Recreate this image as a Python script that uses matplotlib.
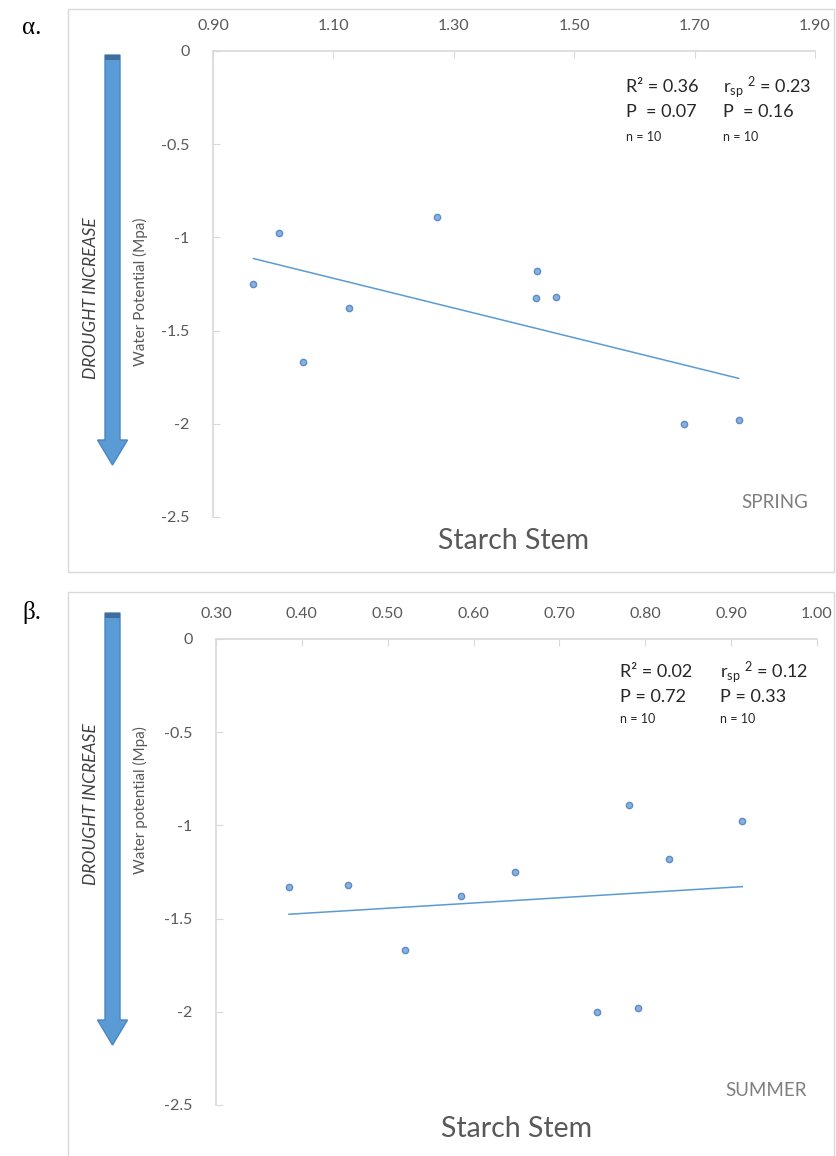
import numpy as np
import matplotlib
matplotlib.use("Agg")
import matplotlib.pyplot as plt
from matplotlib.patches import FancyArrow, Rectangle

plt.rcParams['font.family'] = ['Lato', 'DejaVu Sans']
plt.rcParams['mathtext.fontset'] = 'custom'
plt.rcParams['mathtext.rm'] = 'Lato'
plt.rcParams['mathtext.it'] = 'Lato:italic'

# ---------------- data ----------------
spring_starch = [0.967, 1.010, 1.049, 1.126, 1.272, 1.438, 1.437, 1.470, 1.682, 1.773]
spring_wp = [-1.25, -0.975, -1.666, -1.377, -0.893, -1.179, -1.327, -1.321, -2.00, -1.979]

summer_starch = [0.385, 0.454, 0.520, 0.585, 0.648, 0.744, 0.781, 0.791, 0.828, 0.913]
summer_wp = [-1.328, -1.322, -1.669, -1.377, -1.251, -2.003, -0.893, -1.982, -1.181, -0.975]

spring_xticks = [0.90, 1.10, 1.30, 1.50, 1.70, 1.90]
summer_xticks = [0.30, 0.40, 0.50, 0.60, 0.70, 0.80, 0.90, 1.00]
yticks = [0, -0.5, -1, -1.5, -2, -2.5]
ytick_labels = ['0', '-0.5', '-1', '-1.5', '-2', '-2.5']

spring_stats = ["R\u00b2 = 0.36", "P  = 0.07", "n = 10"]
spring_stats_sp = [r"r$_{\mathregular{sp}}$ $^{\mathregular{2}}$ = 0.23", "P  = 0.16", "n = 10"]
summer_stats = ["R\u00b2 = 0.02", "P = 0.72", "n = 10"]
summer_stats_sp = [r"r$_{\mathregular{sp}}$ $^{\mathregular{2}}$ = 0.12", "P = 0.33", "n = 10"]

W, H = 836, 1156
fig = plt.figure(figsize=(W / 100, H / 100), dpi=100)

BLUE = '#5B9BD5'
GRID = '#D9D9D9'
TXT = '#595959'


def px_rect(l, t, r, b):
    return [l / W, 1 - b / H, (r - l) / W, (b - t) / H]


def panel(box, frame, xs, ys, xticks, xlim, ylabel, ylabel_y, season, stats,
          stats_sp, tx1, tx2, ty, sx, letter, letter_y, arrow_top, arrow_bot,
          drought_y):
    fl, ft, fr, fb = frame
    fig.add_artist(Rectangle((fl / W, 1 - fb / H), (fr - fl) / W, (fb - ft) / H,
                             transform=fig.transFigure, fill=False,
                             edgecolor=GRID, linewidth=1.0))
    ax = fig.add_axes(px_rect(*box))
    ax.set_xlim(*xlim)
    ax.set_ylim(-2.5, 0)
    ax.xaxis.tick_top()
    ax.set_xticks(xticks)
    ax.set_xticklabels([f"{v:.2f}" for v in xticks])
    ax.set_yticks(yticks)
    ax.set_yticklabels(ytick_labels)
    ax.tick_params(axis='x', direction='in', length=5, color=GRID, pad=13,
                   labelsize=11.5, labelcolor=TXT)
    ax.tick_params(axis='y', direction='in', length=5, color=GRID, pad=17,
                   labelsize=11.5, labelcolor=TXT)
    for s in ['right', 'bottom']:
        ax.spines[s].set_visible(False)
    for s in ['top', 'left']:
        ax.spines[s].set_color(GRID)
        ax.spines[s].set_linewidth(1.2)

    ax.plot(xs, ys, 'o', ms=4.5, mfc='#8AB0DE', mec='#5B8BC9', mew=1.0,
            zorder=3, clip_on=False)
    k, b = np.polyfit(xs, ys, 1)
    xx = np.array([min(xs), max(xs)])
    ax.plot(xx, k * xx + b, color=BLUE, lw=1.1, zorder=2)

    bl, bt, br, bb = box
    ax.set_ylabel(ylabel, fontsize=11, color=TXT)
    ax.yaxis.set_label_coords((148 - bl) / (br - bl), (bb - ylabel_y) / (bb - bt))
    ax.set_xlabel("Starch Stem", fontsize=20.5, color=TXT)
    ax.xaxis.set_label_position('bottom')
    ax.xaxis.labelpad = 8

    ax.text(sx, -2.42, season, ha='right', va='center', fontsize=13.5,
            color='#7F7F7F')
    sizes = [13, 13, 9]
    for i, (a, c) in enumerate(zip(stats, stats_sp)):
        ax.text(tx1, ty[i], a, ha='left', va='center', fontsize=sizes[i],
                color='#262626')
        ax.text(tx2, ty[i], c, ha='left', va='center', fontsize=sizes[i],
                color='#262626')

    fig.text(22 / W, 1 - letter_y / H, letter, family=['Liberation Serif'],
             fontsize=18, ha='left', va='center', color='black')

    # drought arrow in pixel-like units (inches at 100 dpi)
    x0 = 112.5 / 100
    y0 = (H - arrow_top) / 100
    length = (arrow_bot - arrow_top) / 100
    arr = FancyArrow(x0, y0, 0, -length, width=0.15, head_width=0.30,
                     head_length=0.25, length_includes_head=True,
                     transform=fig.dpi_scale_trans, facecolor=BLUE,
                     edgecolor='#4A86C0', linewidth=1.0)
    fig.add_artist(arr)
    fig.add_artist(Rectangle((x0 - 0.075, y0 - 0.05), 0.15, 0.05,
                             transform=fig.dpi_scale_trans,
                             facecolor='#3F6E9E', edgecolor='none'))
    fig.text(90.5 / W, 1 - drought_y / H, "DROUGHT INCREASE",
             rotation=90, style='italic', fontsize=12.5, color='#404040',
             ha='center', va='center')
    return ax


panel((213, 51, 815, 517), (68, 9, 834, 572), spring_starch, spring_wp,
      spring_xticks, (0.9, 1.9), "Water Potential (Mpa)", 292, "SPRING",
      spring_stats, spring_stats_sp, 1.586, 1.748, [-0.193, -0.327, -0.461],
      1.888, "\u03b1.", 28, 55, 465, 298)

panel((216, 639, 817, 1105), (68, 592, 834, 1160), summer_starch, summer_wp,
      summer_xticks, (0.3, 1.0), "Water potential (Mpa)", 800, "SUMMER",
      summer_stats, summer_stats_sp, 0.771, 0.887, [-0.177, -0.311, -0.43],
      0.988, "\u03b2.", 612, 613, 1045, 804)

fig.savefig("out.png", dpi=100, facecolor='white')
